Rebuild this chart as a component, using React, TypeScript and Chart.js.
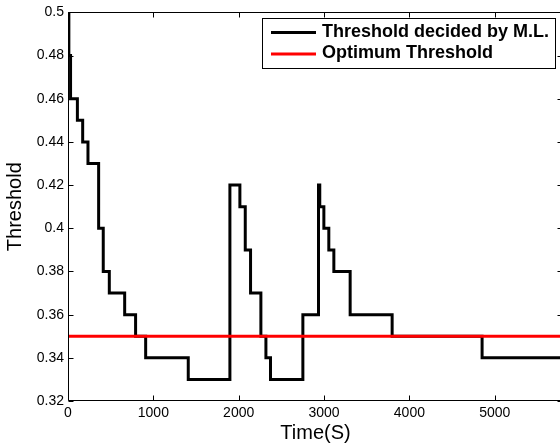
import React, { useEffect, useRef } from 'react';
import { Chart, registerables } from 'chart.js';

Chart.register(...registerables);

// Time (s) at which the M.L. threshold changes, and the value it takes from then on
const changeTimes = [0, 10, 30, 110, 172, 234, 359, 413, 484, 664, 792, 910, 1409, 1897, 2014, 2077, 2139, 2260, 2319, 2373, 2752, 2935, 2950, 2998, 3056, 3115, 3306, 3798, 4852, 5800];
const thresholdML = [0.5, 0.48, 0.46, 0.45, 0.44, 0.43, 0.40, 0.38, 0.37, 0.36, 0.35, 0.34, 0.33, 0.42, 0.41, 0.39, 0.37, 0.35, 0.34, 0.33, 0.36, 0.42, 0.41, 0.40, 0.39, 0.38, 0.36, 0.35, 0.34, 0.34];

const optimumTimes = [0, 5800];
const optimumValues = [0.35, 0.35];

const xTicks = [0, 1000, 2000, 3000, 4000, 5000];
const yTicks = [0.32, 0.34, 0.36, 0.38, 0.4, 0.42, 0.44, 0.46, 0.48, 0.5];

const seriesLabels = ['Threshold decided by M.L.', 'Optimum Threshold'];
const xTitle = 'Time(S)';
const yTitle = 'Threshold';

const FONT = "'Liberation Sans', Arial, Helvetica, sans-serif";

export default function App() {
  const ref = useRef<HTMLCanvasElement>(null);

  useEffect(() => {
    const canvas = ref.current;
    if (!canvas) return;
    Chart.defaults.font.family = FONT;

    const framePlugin = {
      id: 'frame',
      afterDatasetsDraw(chart: any) {
        const { ctx, chartArea } = chart;
        const { left, right, top, bottom } = chartArea;
        const xs = chart.scales.x;
        const ys = chart.scales.y;
        const L = Math.round(left) + 0.5;
        const R = Math.round(right) - 0.5;
        const T = Math.round(top) + 0.5;
        const B = Math.round(bottom) - 0.5;
        ctx.save();
        ctx.strokeStyle = '#000';
        ctx.lineWidth = 1;
        ctx.beginPath();
        ctx.rect(L, T, R - L, B - T);
        ctx.stroke();
        const tl = 5;
        ctx.beginPath();
        xTicks.forEach((v) => {
          const px = Math.round(xs.getPixelForValue(v)) + 0.5;
          ctx.moveTo(px, B);
          ctx.lineTo(px, B - tl);
          ctx.moveTo(px, T);
          ctx.lineTo(px, T + tl);
        });
        yTicks.forEach((v) => {
          const py = Math.round(ys.getPixelForValue(v)) + 0.5;
          ctx.moveTo(L, py);
          ctx.lineTo(L + tl, py);
          ctx.moveTo(R, py);
          ctx.lineTo(R - tl, py);
        });
        ctx.stroke();
        ctx.restore();
      },
      afterDraw(chart: any) {
        const { ctx } = chart;
        const datasets = chart.data.datasets;
        const bx = 262.5, by = 18.5, bw = 293, bh = 50;
        ctx.save();
        ctx.fillStyle = '#fff';
        ctx.fillRect(bx, by, bw, bh);
        ctx.strokeStyle = '#000';
        ctx.lineWidth = 1;
        ctx.strokeRect(bx, by, bw, bh);
        const rows = [32.5, 54];
        datasets.forEach((ds: any, i: number) => {
          const y = rows[i];
          ctx.beginPath();
          ctx.strokeStyle = ds.borderColor;
          ctx.lineWidth = 3;
          ctx.moveTo(271, y);
          ctx.lineTo(316, y);
          ctx.stroke();
          ctx.fillStyle = '#000';
          ctx.font = `bold 18px ${FONT}`;
          ctx.textBaseline = 'middle';
          ctx.textAlign = 'left';
          ctx.fillText(ds.label, 322, y - 0.5);
        });
        ctx.restore();
      },
    };

    const chart = new Chart(canvas, {
      type: 'line',
      data: {
        datasets: [
          {
            label: seriesLabels[0],
            data: changeTimes.map((t, i) => ({ x: t, y: thresholdML[i] })),
            borderColor: '#000000',
            borderWidth: 3,
            stepped: 'before',
            pointRadius: 0,
            borderJoinStyle: 'miter',
            borderCapStyle: 'butt',
            order: 1,
          },
          {
            label: seriesLabels[1],
            data: optimumTimes.map((t, i) => ({ x: t, y: optimumValues[i] })),
            borderColor: '#ff0000',
            borderWidth: 3,
            pointRadius: 0,
            order: 0,
          },
        ],
      },
      options: {
        responsive: false,
        animation: false,
        events: [],
        layout: { padding: { top: 11, right: 1, left: 0, bottom: 0 } },
        plugins: { legend: { display: false }, tooltip: { enabled: false } },
        scales: {
          x: {
            type: 'linear',
            min: 0,
            max: 5800,
            afterBuildTicks: (s: any) => {
              s.ticks = xTicks.map((v) => ({ value: v }));
            },
            afterFit: (s: any) => {
              s.height = 46;
            },
            grid: { display: false, drawTicks: false, tickLength: 0 },
            border: { display: false },
            ticks: {
              font: { size: 14 },
              color: '#000',
              padding: 4,
              maxRotation: 0,
              autoSkip: false,
              callback: (v: any) => String(v),
            },
            title: {
              display: true,
              text: xTitle,
              font: { size: 20 },
              color: '#000',
              padding: { top: 0, bottom: 1.5 },
            },
          },
          y: {
            type: 'linear',
            min: 0.32,
            max: 0.5,
            afterBuildTicks: (s: any) => {
              s.ticks = yTicks.map((v) => ({ value: v }));
            },
            afterFit: (s: any) => {
              s.width = 68;
            },
            grid: { display: false, drawTicks: false, tickLength: 0 },
            border: { display: false },
            ticks: {
              font: { size: 14 },
              color: '#000',
              padding: 4,
              autoSkip: false,
              callback: (v: any) => String(Number(Number(v).toFixed(2))),
            },
            title: {
              display: true,
              text: yTitle,
              font: { size: 20 },
              color: '#000',
              padding: { top: 3.5, bottom: 0 },
            },
          },
        },
      },
      plugins: [framePlugin],
    } as any);

    return () => chart.destroy();
  }, []);

  return (
    <div style={{ position: 'absolute', left: 0, top: 0, width: 560, height: 447, overflow: 'hidden', background: '#fff' }}>
      <canvas ref={ref} width={564} height={447} style={{ display: 'block', width: 564, height: 447 }} />
    </div>
  );
}
